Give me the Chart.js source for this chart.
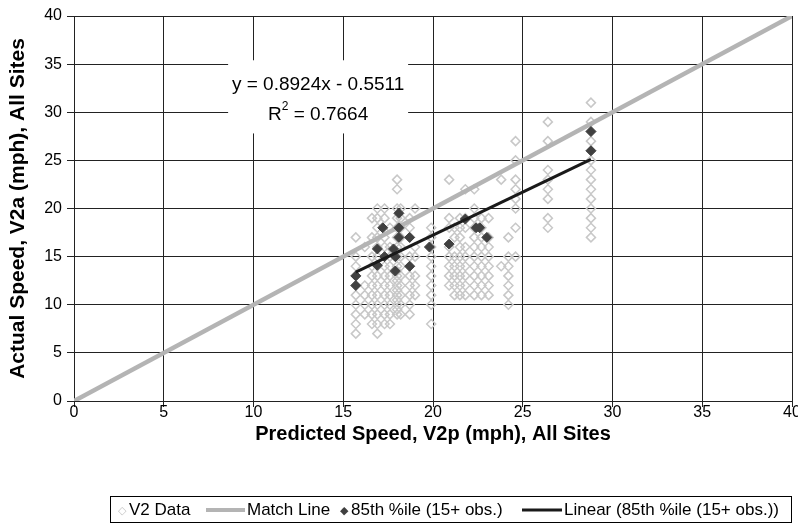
<!DOCTYPE html>
<html>
<head>
<meta charset="utf-8">
<script src="https://cdn.jsdelivr.net/npm/chart.js@4.4.0/dist/chart.umd.min.js"></script>
<style>
  html, body { margin: 0; padding: 0; background: #fff; }
  #wrap { position: relative; width: 798px; height: 525px; }
  #legend {
    position: absolute; left: 110px; top: 496px; width: 682px; height: 27px;
    border: 1px solid #000; box-sizing: border-box;
    font: 17px "Liberation Sans", Arial, sans-serif; color: #000; white-space: nowrap;
  }
  #legend span { position: absolute; top: 50%; transform: translateY(-50%); }
  #legend .line { height: 4px; }
  #legend .mk { font-size: 11px; }
</style>
</head>
<body>
<div id="wrap">
  <canvas id="chart" width="798" height="525"></canvas>
  <div id="legend">
    <span class="mk" style="left:7px;color:#c4c4c4">&#9671;</span><span style="left:18px">V2 Data</span>
    <span class="line" style="left:95px;width:39px;background:#b4b4b4"></span><span style="left:136px">Match Line</span>
    <span class="mk" style="left:229px;color:#404040">&#9670;</span><span style="left:240px">85th %ile (15+ obs.)</span>
    <span class="line" style="left:411px;width:40px;height:3px;background:#1a1a1a"></span><span style="left:453px">Linear (85th %ile (15+ obs.))</span>
  </div>
</div>
<script>
// ===== Data =====
// predicted speed columns and the actual speeds observed at each
const v2Cols = [15.7, 16.2, 16.6, 16.9, 17.3, 17.6, 18.0, 18.2, 18.7, 19.0, 19.9,
                20.9, 21.2, 21.5, 21.8, 22.3, 22.7, 23.1, 23.8, 24.2, 24.6, 26.4, 28.8];
const v2Speeds = [
  [17, 15, 14, 13, 12, 11, 10, 9, 8, 7],
  [16, 12, 11, 10, 9],
  [19, 17, 15, 14, 13, 12, 11, 10, 9, 8],
  [20, 19, 18, 17, 16, 15, 14, 13, 12, 11, 10, 9, 8, 7],
  [20, 19, 17, 16, 14, 13, 12, 11, 10, 9, 8],
  [18, 16, 15, 14, 13, 12, 11, 10, 9, 8],
  [23, 22, 20, 19, 18, 17, 16, 15, 14, 13.5, 13, 12.5, 12, 11.5, 11, 10.5, 10, 9.5, 9],
  [20, 19, 18, 17, 16, 15, 14, 13, 12, 11, 10, 9],
  [19, 18, 17, 15, 14, 13, 12, 11, 10, 9],
  [20, 16, 15, 13, 12, 11],
  [18, 17, 16, 15, 14, 13, 12, 11, 10, 8],
  [23, 19, 18, 16, 15, 14, 13, 12],
  [18, 17, 15, 14, 13, 12, 11],
  [19, 18, 17, 16, 15, 14, 13, 12, 11],
  [22, 19, 18, 16, 15, 14, 13, 12, 11],
  [22, 20, 19, 18, 17, 16, 15, 14, 13, 12, 11],
  [19, 18, 17, 16, 15, 14, 13, 12, 11],
  [19, 17, 16, 15, 14, 13, 12, 11],
  [23, 14],
  [17, 15, 14, 13, 12, 11, 10],
  [27, 25, 23, 22, 21, 20, 18, 15],
  [29, 27, 24, 23, 22, 21, 19, 18],
  [31, 29, 28, 27, 26, 25, 24, 23, 22, 21, 20, 19, 18, 17]
];

// 85th percentile speeds (sites with 15+ observations)
const p85X = [15.7, 15.7, 16.9, 16.9, 17.2, 17.3, 17.8, 17.9, 17.9, 18.1, 18.1, 18.1,
              18.7, 18.7, 19.8, 20.9, 21.8, 22.4, 22.6, 23.0, 28.8, 28.8];
const p85Y = [13, 12, 15.8, 14.1, 18, 15, 15.8, 15, 13.5, 19.5, 18, 17,
              17, 14, 16, 16.3, 18.9, 18, 18, 17, 28, 26];

const matchX = [0, 40];
const matchY = [0, 40];

// linear fit end points
const trendX = [15.7, 28.8];
const trendY = [13.4, 25.1];

const axisTicks = [0, 5, 10, 15, 20, 25, 30, 35, 40];
const fitLines = ['y = 0.8924x - 0.5511', 'R', '2', ' = 0.7664'];

// ===== Build points =====
const v2Points = [];
v2Cols.forEach((x, i) => v2Speeds[i].forEach(y => v2Points.push({ x: x, y: y })));
const p85Points = p85X.map((x, i) => ({ x: x, y: p85Y[i] }));
const matchPoints = matchX.map((x, i) => ({ x: x, y: matchY[i] }));
const trendPoints = trendX.map((x, i) => ({ x: x, y: trendY[i] }));

const FONT = '"Liberation Sans", Arial, sans-serif';

// equation label box, drawn over the grid
const fitLabel = {
  id: 'fitLabel',
  beforeDatasetsDraw(chart) {
    const ctx = chart.ctx;
    const xs = chart.scales.x, ys = chart.scales.y;
    const cx = xs.getPixelForValue(13.6);
    const top = ys.getPixelForValue(35.4);
    const bottom = ys.getPixelForValue(27.8);
    ctx.save();
    ctx.fillStyle = '#fff';
    ctx.fillRect(cx - 90, top, 180, bottom - top);
    ctx.fillStyle = '#000';
    ctx.font = '19px ' + FONT;
    ctx.textAlign = 'center';
    ctx.textBaseline = 'middle';
    ctx.fillText(fitLines[0], cx, ys.getPixelForValue(33.2) + 3);
    // second line: R² with raised 2
    const y2 = ys.getPixelForValue(30.1) + 3;
    const wR = ctx.measureText(fitLines[1]).width;
    const wRest = ctx.measureText(fitLines[3]).width;
    ctx.font = '12px ' + FONT;
    const wSup = ctx.measureText(fitLines[2]).width;
    const x0 = cx - (wR + wSup + wRest) / 2;
    ctx.textAlign = 'left';
    ctx.font = '19px ' + FONT;
    ctx.fillText(fitLines[1], x0, y2);
    ctx.font = '12px ' + FONT;
    ctx.fillText(fitLines[2], x0 + wR, y2 - 8);
    ctx.font = '19px ' + FONT;
    ctx.fillText(fitLines[3], x0 + wR + wSup, y2);
    ctx.restore();
  }
};

new Chart(document.getElementById('chart').getContext('2d'), {
  type: 'scatter',
  data: {
    datasets: [
      {
        label: 'V2 Data',
        data: v2Points,
        pointStyle: 'rectRot',
        pointRadius: 4.5,
        pointBorderWidth: 1.5,
        borderColor: '#c8c8c8',
        backgroundColor: 'rgba(0,0,0,0)',
        order: 4
      },
      {
        label: 'Match Line',
        data: matchPoints,
        showLine: true,
        borderColor: '#b4b4b4',
        borderWidth: 4.5,
        pointRadius: 0,
        order: 3
      },
      {
        label: '85th %ile (15+ obs.)',
        data: p85Points,
        pointStyle: 'rectRot',
        pointRadius: 5,
        borderColor: '#404040',
        backgroundColor: '#404040',
        order: 2
      },
      {
        label: 'Linear (85th %ile (15+ obs.))',
        data: trendPoints,
        showLine: true,
        borderColor: '#1a1a1a',
        borderWidth: 3,
        pointRadius: 0,
        order: 1
      }
    ]
  },
  options: {
    responsive: false,
    animation: false,
    layout: { padding: { left: 0, right: 4, top: 16, bottom: 74 } },
    plugins: {
      legend: { display: false },
      tooltip: { enabled: false }
    },
    scales: {
      x: {
        type: 'linear',
        min: 0, max: 40,
        afterBuildTicks: s => { s.ticks = axisTicks.map(v => ({ value: v })); },
        afterFit: s => { s.height = 50; s.paddingLeft = 0; s.paddingRight = 0; },
        grid: { color: '#222', lineWidth: 1, tickLength: 6, tickColor: '#222' },
        border: { color: '#222', width: 1 },
        ticks: { color: '#000', font: { family: FONT, size: 16 }, padding: -4, maxRotation: 0 },
        title: {
          display: true,
          text: 'Predicted Speed, V2p (mph), All Sites',
          color: '#000',
          font: { family: FONT, size: 20, weight: 'bold' },
          padding: { top: 0, bottom: 5 }
        }
      },
      y: {
        type: 'linear',
        min: 0, max: 40,
        afterBuildTicks: s => { s.ticks = axisTicks.map(v => ({ value: v })); },
        afterFit: s => { s.width = 74; s.paddingTop = 0; s.paddingBottom = 0; },
        grid: { color: '#222', lineWidth: 1, tickLength: 7, tickColor: '#222' },
        border: { color: '#222', width: 1 },
        ticks: { color: '#000', font: { family: FONT, size: 16 }, padding: 5 },
        title: {
          display: true,
          text: 'Actual Speed, V2a (mph), All Sites',
          color: '#000',
          font: { family: FONT, size: 21, weight: 'bold' },
          padding: { top: 6, bottom: 0 }
        }
      }
    }
  },
  plugins: [fitLabel]
});
</script>
</body>
</html>
